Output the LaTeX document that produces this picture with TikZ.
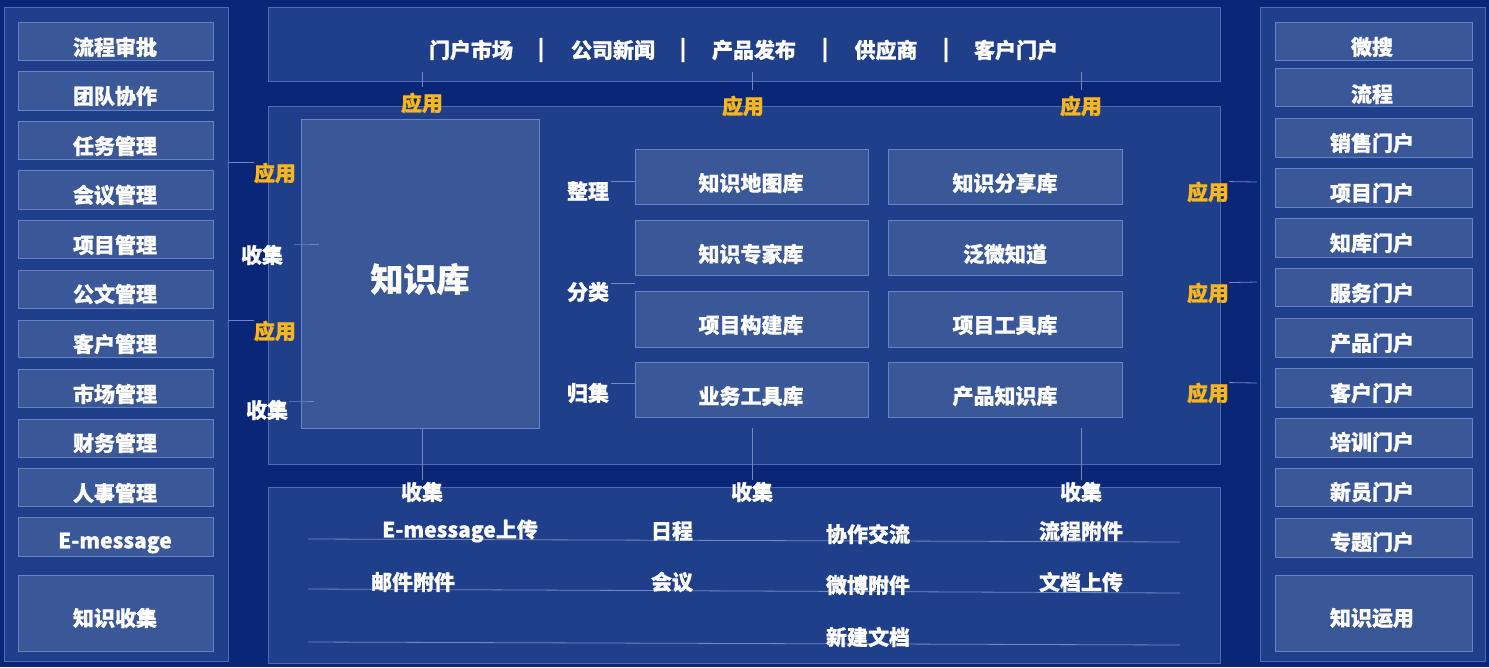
\documentclass[tikz,border=0pt]{standalone}
\usepackage{fontspec}
\setmainfont{Noto Sans CJK SC}[BoldFeatures={FakeBold=0.8}]
\definecolor{bg}{HTML}{0A2676}
\definecolor{panel}{HTML}{203F8A}
\definecolor{panelb}{HTML}{4C6CB8}
\definecolor{boxf}{HTML}{3A5898}
\definecolor{boxb}{HTML}{6683C4}
\definecolor{ln}{HTML}{7088C4}
\definecolor{gold}{HTML}{F7B51E}
\newcommand\mkbox[6]{\node[#6,anchor=north west,minimum width=#3pt,minimum height=#4pt] (#5) at (#1,#2) {};}
\tikzset{
  panelbox/.style={draw=panelb,fill=panel,line width=0.9pt,inner sep=0pt,outer sep=0pt},
  itembox/.style={draw=boxb,fill=boxf,line width=0.9pt,inner sep=0pt,outer sep=0pt},
  txt/.style={text=white,font=\bfseries\fontsize{21}{21}\selectfont,inner sep=0pt},
  bigtxt/.style={text=white,font=\bfseries\fontsize{33}{33}\selectfont,inner sep=0pt},
  apply/.style={text=gold,font=\bfseries\fontsize{21}{21}\selectfont,inner sep=0pt},
  conn/.style={draw=ln,line width=0.8pt}
}
\begin{document}
\begin{tikzpicture}[x=1pt,y=-1pt]
\fill[bg] (0,0) rectangle (1489,667);
\useasboundingbox (0,0) rectangle (1489,667);
% panels
\mkbox{4}{7}{224}{654}{LP}{panelbox}
\mkbox{1260}{7}{225}{654}{RP}{panelbox}
\mkbox{268}{7}{952}{74}{TP}{panelbox}
\mkbox{268}{106}{952}{358}{MP}{panelbox}
\mkbox{268}{487}{952}{176}{BP}{panelbox}
% left boxes
\mkbox{18}{22}{195}{38}{L1}{itembox}
\mkbox{18}{71}{195}{39}{L2}{itembox}
\mkbox{18}{121}{195}{38}{L3}{itembox}
\mkbox{18}{170}{195}{39}{L4}{itembox}
\mkbox{18}{220}{195}{38}{L5}{itembox}
\mkbox{18}{270}{195}{38}{L6}{itembox}
\mkbox{18}{320}{195}{37}{L7}{itembox}
\mkbox{18}{369}{195}{38}{L8}{itembox}
\mkbox{18}{419}{195}{38}{L9}{itembox}
\mkbox{18}{468}{195}{38}{L10}{itembox}
\mkbox{18}{517}{195}{39}{L11}{itembox}
\mkbox{18}{575}{195}{76}{L12}{itembox}
\node[txt] (L1t) at (115,47) {流程审批};
\node[txt] (L2t) at (115,96) {团队协作};
\node[txt] (L3t) at (115,146) {任务管理};
\node[txt] (L4t) at (115,195) {会议管理};
\node[txt] (L5t) at (115,245) {项目管理};
\node[txt] (L6t) at (115,294) {公文管理};
\node[txt] (L7t) at (115,344) {客户管理};
\node[txt] (L8t) at (115,394) {市场管理};
\node[txt] (L9t) at (115,443) {财务管理};
\node[txt] (L10t) at (115,493) {人事管理};
\node[txt] (L11t) at (115,543) {E-message};
\node[txt] (L12t) at (115,618) {知识收集};
% right boxes
\mkbox{1275}{22}{197}{38}{R1}{itembox}
\mkbox{1275}{68}{197}{38}{R2}{itembox}
\mkbox{1275}{118}{197}{39}{R3}{itembox}
\mkbox{1275}{168}{197}{39}{R4}{itembox}
\mkbox{1275}{218}{197}{39}{R5}{itembox}
\mkbox{1275}{268}{197}{38}{R6}{itembox}
\mkbox{1275}{318}{197}{39}{R7}{itembox}
\mkbox{1275}{368}{197}{39}{R8}{itembox}
\mkbox{1275}{418}{197}{39}{R9}{itembox}
\mkbox{1275}{468}{197}{38}{R10}{itembox}
\mkbox{1275}{518}{197}{39}{R11}{itembox}
\mkbox{1275}{575}{197}{76}{R12}{itembox}
\node[txt] (R1t) at (1372,47) {微搜};
\node[txt] (R2t) at (1372,94) {流程};
\node[txt] (R3t) at (1372,143) {销售门户};
\node[txt] (R4t) at (1372,193) {项目门户};
\node[txt] (R5t) at (1372,243) {知库门户};
\node[txt] (R6t) at (1372,293) {服务门户};
\node[txt] (R7t) at (1372,343) {产品门户};
\node[txt] (R8t) at (1372,393) {客户门户};
\node[txt] (R9t) at (1372,442) {培训门户};
\node[txt] (R10t) at (1372,492) {新员门户};
\node[txt] (R11t) at (1372,542) {专题门户};
\node[txt] (R12t) at (1372,618) {知识运用};
% top panel text
\node[txt] (T1) at (471,50) {门户市场};
\node[txt] (S1) at (541,50) {|};
\node[txt] (T2) at (613,50) {公司新闻};
\node[txt] (S2) at (683,50) {|};
\node[txt] (T3) at (754,50) {产品发布};
\node[txt] (S3) at (825,50) {|};
\node[txt] (T4) at (886,50) {供应商};
\node[txt] (S4) at (946,50) {|};
\node[txt] (T5) at (1016,50) {客户门户};
% knowledge base
\mkbox{301}{119}{238}{309}{KB}{itembox}
\node[bigtxt] (KBt) at (420,279) {知识库};
% library boxes
\mkbox{635}{149}{233}{55}{A1}{itembox}
\mkbox{635}{220}{233}{55}{A2}{itembox}
\mkbox{635}{291}{233}{56}{A3}{itembox}
\mkbox{635}{362}{233}{55}{A4}{itembox}
\mkbox{888}{149}{234}{55}{B1}{itembox}
\mkbox{888}{220}{234}{55}{B2}{itembox}
\mkbox{888}{291}{234}{56}{B3}{itembox}
\mkbox{888}{362}{234}{55}{B4}{itembox}
\node[txt] (A1t) at (751,183) {知识地图库};
\node[txt] (A2t) at (751,254) {知识专家库};
\node[txt] (A3t) at (751,325) {项目构建库};
\node[txt] (A4t) at (751,396) {业务工具库};
\node[txt] (B1t) at (1005,183) {知识分享库};
\node[txt] (B2t) at (1005,254) {泛微知道};
\node[txt] (B3t) at (1005,325) {项目工具库};
\node[txt] (B4t) at (1005,396) {产品知识库};
% middle labels
\node[txt] (M1) at (588,191) {整理};
\node[txt] (M2) at (588,292) {分类};
\node[txt] (M3) at (588,393) {归集};
\draw[conn] (611,181) coordinate (m1a) -- (A1.west |- m1a);
\draw[conn] (611,283) coordinate (m2a) -- (A1.west |- m2a);
\draw[conn] (611,383) coordinate (m3a) -- (A4.west |- m3a);
% top apply labels
\node[apply] (U1) at (422,103) {应用};
\node[apply] (U2) at (743,106) {应用};
\node[apply] (U3) at (1081,106) {应用};
\coordinate (u1a) at (422,72);
\coordinate (u2a) at (752,72);
\coordinate (u3a) at (1081,72);
\draw[conn] (u1a) -- (422,87);
\draw[conn] (u2a) -- (752,90);
\draw[conn] (u3a) -- (1081,90);
% left labels
\node[apply] (LA1) at (275,173) {应用};
\node[apply] (LA2) at (275,331) {应用};
\node[txt] (LC1) at (262,255) {收集};
\node[txt] (LC2) at (267,410) {收集};
\draw[conn] (LP.east |- LA1.north west) -- (LA1.north west);
\draw[conn] (LP.east |- LA2.north west) -- (LA2.north west);
\draw[conn] (294,244) coordinate (lc1a) -- (KB.west |- lc1a) -- +(18,0);
\draw[conn] (289,401) coordinate (lc2a) -- (KB.west |- lc2a) -- +(13,0);
% right labels
\node[apply] (RA1) at (1208,192) {应用};
\node[apply] (RA2) at (1208,293) {应用};
\node[apply] (RA3) at (1208,393) {应用};
\draw[conn] (RA1.north east) -- (1257,182);
\draw[conn] (RA2.north east) -- (1257,282);
\draw[conn] (RA3.north east) -- (1257,383);
% bottom collect labels
\node[txt] (D1) at (422,492) {收集};
\node[txt] (D2) at (752,492) {收集};
\node[txt] (D3) at (1081,492) {收集};
\draw[conn] (KB.south -| D1) -- (422,480);
\draw[conn] (752,428) -- (752,480);
\draw[conn] (1081,428) -- (1081,480);
% bottom lines
\draw[conn] (308,539) coordinate (h1a) -- (1180,542) coordinate (h1b);
\draw[conn] (308,589) coordinate (h2a) -- (1180,593) coordinate (h2b);
\draw[conn] (308,642) coordinate (h3a) -- (1180,645) coordinate (h3b);
% bottom texts
\node[txt] (E1) at (460,531) {E-message上传};
\node[txt] (E2) at (413,582) {邮件附件};
\node[txt] (E3) at (672,531) {日程};
\node[txt] (E4) at (672,582) {会议};
\node[txt] (E5) at (868,534) {协作交流};
\node[txt] (E6) at (868,585) {微博附件};
\node[txt] (E7) at (868,637) {新建文档};
\node[txt] (E8) at (1081,531) {流程附件};
\node[txt] (E9) at (1081,582) {文档上传};
\end{tikzpicture}
\end{document}
